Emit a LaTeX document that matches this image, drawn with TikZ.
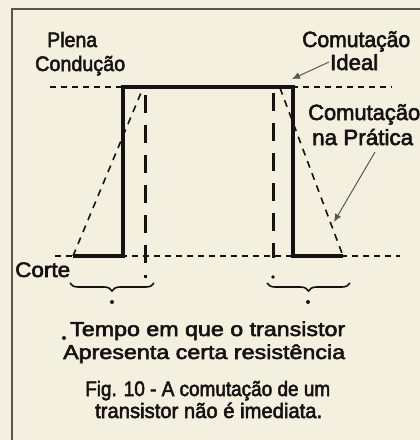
\documentclass[tikz,border=0pt]{standalone}
\usepackage{fontspec}
\setmainfont{Liberation Sans}[FakeBold=2.6]
\usepackage{graphicx}
\usetikzlibrary{decorations.pathreplacing,arrows.meta}
\definecolor{bg}{RGB}{244,240,224}
\definecolor{ink}{RGB}{22,18,18}
\definecolor{framec}{RGB}{90,85,80}
\definecolor{ptrc}{RGB}{90,88,86}
\newcommand{\fitw}[2]{\resizebox{#1}{\height}{#2}}
\begin{document}
\begin{tikzpicture}[x=1pt,y=-1pt,
  lbl/.style={inner sep=0pt,anchor=base west,text=ink},
  lsmall/.style={lbl,font=\fontsize{21}{22}\selectfont},
  lbig/.style={lbl,font=\fontsize{22}{23}\selectfont},
  lbot/.style={lbl,font=\fontsize{20}{21}\selectfont},
  lcap/.style={lbl,font=\fontsize{21}{22}\selectfont},
  level/.style={draw=ink,line width=1.5pt,dash pattern=on 6pt off 5pt},
  wave/.style={draw=ink,line width=3.6pt,line join=miter},
  slant/.style={draw=ink,line width=1.6pt,dash pattern=on 7pt off 6pt},
  vdash/.style={draw=ink,line width=3pt,dash pattern=on 18pt off 12pt},
  ptr/.style={draw=ptrc,line width=1pt,-{Latex[length=8pt,width=7pt]}},
  bracestyle/.style={draw=ink,line width=1.6pt,decorate,decoration={brace,amplitude=8pt,mirror}},
  dotc/.style={fill=ink}]
\fill[bg] (0,0) rectangle (420,440);
\useasboundingbox (0,0) rectangle (420,440);
% frame
\draw[framec,line width=1.8pt] (12,440) -- (12,9) -- (420,9);
% level lines
\coordinate (t1) at (50,87); \coordinate (t2) at (392,87);
\coordinate (b1) at (55,256); \coordinate (b2) at (400,256);
\draw[level] (t1) -- (t2);
\draw[level] (b1) -- (b2);
% practical slopes
\coordinate (p1) at (73,256); \coordinate (p2) at (143,88);
\coordinate (p3) at (280,88); \coordinate (p4) at (343,256);
\draw[slant] (p1) -- (p2);
\draw[slant] (p3) -- (p4);
% vertical dashed
\coordinate (v1a) at (145,95); \coordinate (v1b) at (145,278);
\coordinate (v2a) at (273,93); \coordinate (v2b) at (273,258);
\draw[vdash] (v1a) -- (v1b);
\draw[vdash] (v2a) -- (v2b);
% ideal waveform
\coordinate (w1) at (73,256); \coordinate (w2) at (123,256);
\coordinate (w3) at (123,87); \coordinate (w4) at (293,87);
\coordinate (w5) at (293,256); \coordinate (w6) at (343,256);
\draw[wave] (w1) -- (w2) -- (w3) -- (w4) -- (w5) -- (w6);
% braces
\coordinate (br1a) at (70,283); \coordinate (br1b) at (154,283);
\coordinate (br2a) at (267,283); \coordinate (br2b) at (350,283);
\draw[bracestyle] (br1a) -- (br1b);
\draw[bracestyle] (br2a) -- (br2b);
% dots
\fill[dotc] (112,302) circle (2pt);
\fill[dotc] (308,302) circle (2pt);
\fill[dotc] (273,277) circle (1.8pt);
\fill[dotc] (64,338) circle (2pt);
% labels
\node[lsmall] (plena) at (47,47) {\fitw{50pt}{Plena}};
\node[lsmall] (cond) at (35,71) {\fitw{90pt}{Condução}};
\node[lbig] (comI) at (302,47) {\fitw{108pt}{Comutação}};
\node[lbig] (ideal) at (330,70) {\fitw{48pt}{Ideal}};
\node[lbig] (comP) at (308,120) {\fitw{112pt}{Comutação}};
\node[lbig] (prat) at (312,145) {\fitw{101pt}{na Prática}};
\node[lsmall] (corte) at (15,277) {\fitw{55pt}{Corte}};
\node[lbot] (tempo) at (70,336) {\fitw{275pt}{Tempo em que o transistor}};
\node[lbot] (apres) at (63,359) {\fitw{282pt}{Apresenta certa resistência}};
\node[lcap] (fig) at (85,396) {\fitw{245pt}{Fig. 10 - A comutação de um}};
\node[lcap] (fig2) at (95,418) {\fitw{227pt}{transistor não é imediata.}};
% pointers
\coordinate (ptA) at (329,62); \coordinate (tipA) at (292,79);
\draw[ptr] (ptA) -- (tipA);
\coordinate (ptB) at (375,152); \coordinate (tipB) at (334,222);
\draw[ptr] (ptB) -- (tipB);
\end{tikzpicture}
\end{document}
